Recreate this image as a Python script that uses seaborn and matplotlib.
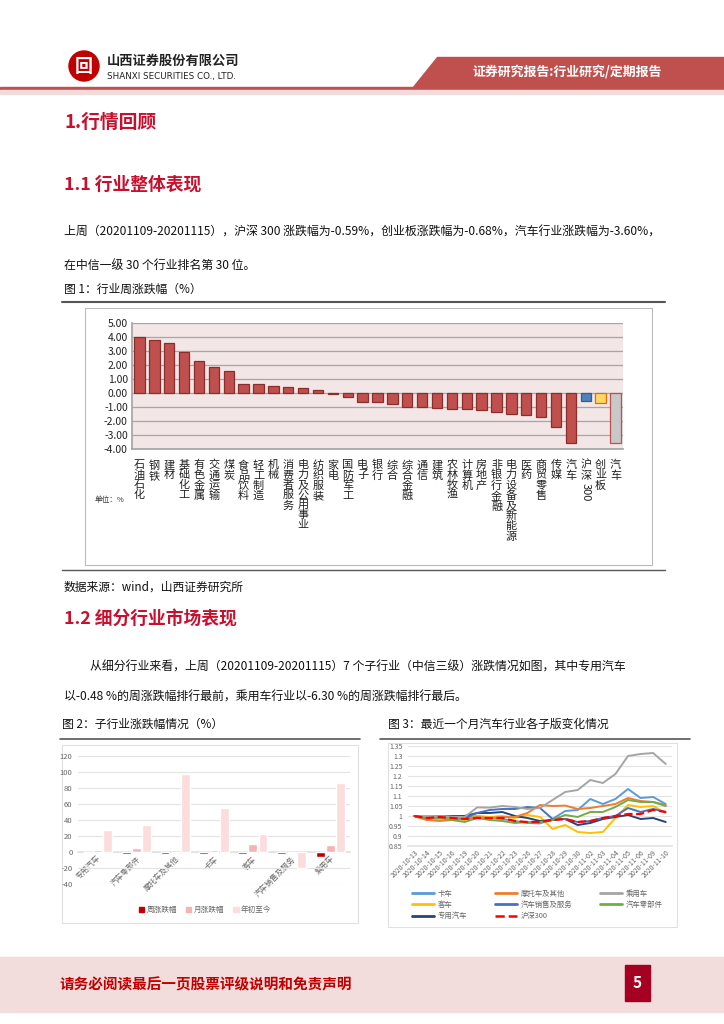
import numpy as np
import pandas as pd
import matplotlib
matplotlib.use("Agg")
import matplotlib.pyplot as plt
import matplotlib.patches as mpatches
import matplotlib.transforms as mtrans
from matplotlib.lines import Line2D
import seaborn as sns

sns.set_theme(style="white")
plt.rcParams['font.family'] = ['Noto Sans CJK SC', 'DejaVu Sans']
plt.rcParams['axes.unicode_minus'] = False

W, H = 724, 1024
RED = "#C8102E"

# ---- 图1 data
industries = ["石油石化", "钢铁", "建材", "基础化工", "有色金属", "交通运输", "煤炭",
              "食品饮料", "轻工制造", "机械", "消费者服务", "电力及公用事业", "纺织服装",
              "家电", "国防军工", "电子", "银行", "综合", "综合金融", "通信", "建筑",
              "农林牧渔", "计算机", "房地产", "非银行金融", "电力设备及新能源", "医药",
              "商贸零售", "传媒", "汽车"]
industry_chg = [4.03, 3.78, 3.60, 2.90, 2.28, 1.87, 1.55, 0.65, 0.62, 0.50, 0.42, 0.35,
                0.20, -0.10, -0.25, -0.62, -0.62, -0.76, -1.00, -1.03, -1.07, -1.14,
                -1.14, -1.22, -1.36, -1.50, -1.56, -1.72, -2.43, -3.60]
index_names = ["沪深300", "创业板", "汽车"]
index_chg = [-0.59, -0.68, -3.60]

# ---- 图2 data
sub_names = ["专用汽车", "汽车零部件", "摩托车及其他", "卡车", "客车", "汽车销售及服务", "乘用车"]
sub_week = [-0.48, -2.0, -2.1, -2.6, -2.7, -3.1, -6.30]
sub_month = [2.5, 5.5, 0.5, 3.0, 9.5, 0.2, 8.5]
sub_ytd = [28, 34, 97.5, 55, 22, -19.5, 86]

# ---- 图3 data
dates = ["2020-10-13", "2020-10-14", "2020-10-15", "2020-10-16", "2020-10-19", "2020-10-20",
         "2020-10-21", "2020-10-22", "2020-10-23", "2020-10-26", "2020-10-27", "2020-10-28",
         "2020-10-29", "2020-10-30", "2020-11-02", "2020-11-03", "2020-11-04", "2020-11-05",
         "2020-11-06", "2020-11-09", "2020-11-10"]
truck = [1.0, 0.998, 1.0, 0.995, 0.99, 1.0, 0.99, 0.985, 0.975, 0.965, 0.963, 0.985, 1.025,
         1.03, 1.085, 1.06, 1.085, 1.135, 1.09, 1.095, 1.06]
moto = [1.0, 0.98, 0.975, 0.98, 0.985, 0.995, 0.99, 0.995, 0.995, 1.015, 1.055, 1.05, 1.052,
        1.035, 1.04, 1.05, 1.06, 1.09, 1.075, 1.07, 1.055]
passenger = [1.0, 0.998, 0.997, 0.996, 0.995, 1.043, 1.042, 1.05, 1.045, 1.035, 1.04, 1.08,
             1.12, 1.13, 1.18, 1.165, 1.21, 1.30, 1.31, 1.315, 1.26]
bus = [1.0, 0.98, 0.985, 0.99, 0.98, 1.0, 0.995, 1.0, 0.99, 1.005, 0.995, 0.935, 0.955, 0.92,
       0.915, 0.92, 0.99, 1.055, 1.045, 1.05, 1.015]
sales = [1.0, 0.99, 0.995, 0.995, 0.99, 1.015, 1.03, 1.035, 1.035, 1.045, 1.04, 0.985, 0.985,
         0.97, 0.975, 0.99, 1.0, 1.04, 1.02, 1.035, 1.02]
parts = [1.0, 0.99, 0.99, 0.98, 0.97, 0.99, 0.98, 0.975, 0.965, 0.97, 0.97, 0.98, 1.005, 0.995,
         1.02, 1.02, 1.045, 1.08, 1.07, 1.07, 1.05]
special = [1.0, 0.985, 0.995, 1.0, 1.0, 1.015, 1.015, 1.02, 1.0, 0.99, 0.975, 0.98, 0.985,
           0.955, 0.965, 0.985, 0.995, 1.005, 0.985, 0.99, 0.97]
hs300 = [1.0, 0.99, 0.995, 0.99, 0.985, 0.99, 0.99, 0.99, 0.975, 0.97, 0.97, 0.98, 0.985,
         0.97, 0.975, 0.99, 1.0, 1.01, 1.01, 1.03, 1.02]


def px(x, y, w, h):
    return [x / W, 1 - (y + h) / H, w / W, h / H]


fig = plt.figure(figsize=(W / 100, H / 100), dpi=100)
fig.patch.set_facecolor("white")

# page layer in pixel coordinates
bg = fig.add_axes([0, 0, 1, 1])
bg.set_xlim(0, W)
bg.set_ylim(H, 0)
bg.axis("off")

# header
bg.add_patch(mpatches.Circle((84, 66), 15, color="#C00000"))
bg.text(84, 66, "回", color="white", fontsize=13, fontweight="bold", ha="center", va="center")
bg.text(107, 61, "山西证券股份有限公司", fontsize=9.5, fontweight="bold", color="#222222", va="center")
bg.text(107, 76, "SHANXI SECURITIES CO., LTD.", fontsize=6.3, color="#222222", va="center",
        family="DejaVu Sans")
bg.add_patch(mpatches.Polygon([(437, 57), (724, 57), (724, 88), (412, 88)], color="#C0504D"))
bg.text(567, 72, "证券研究报告:行业研究/定期报告", color="white", fontsize=9.3, fontweight="bold",
        ha="center", va="center")
bg.add_patch(mpatches.Rectangle((0, 87), W, 2.5, color="#C0504D"))
bg.add_patch(mpatches.Rectangle((0, 89.5), W, 4, color="#F2DCDB"))

# headings and body
bg.text(64, 122, "1.行情回顾", fontsize=13.5, fontweight="bold", color=RED, va="center")
bg.text(64, 185, "1.1 行业整体表现", fontsize=12.8, fontweight="bold", color=RED, va="center")
bg.text(64, 232, "上周（20201109-20201115），沪深 300 涨跌幅为-0.59%，创业板涨跌幅为-0.68%，汽车行业涨跌幅为-3.60%，",
        fontsize=8.6, color="#111111", va="center")
bg.text(64, 265, "在中信一级 30 个行业排名第 30 位。", fontsize=8.6, color="#111111", va="center")
bg.text(64, 289, "图 1：行业周涨跌幅（%）", fontsize=8.5, color="#111111", va="center")
bg.plot([62, 665], [302, 302], color="#555555", lw=1.5)
bg.add_patch(mpatches.Rectangle((85, 308), 567, 257, fill=False, ec="#BBBBBB", lw=0.8))
bg.text(95, 500, "单位：%", fontsize=5.5, color="#333333", va="center")
bg.plot([62, 665], [570, 570], color="#555555", lw=1.0)
bg.text(64, 587, "数据来源：wind，山西证券研究所", fontsize=8.5, color="#111111", va="center")
bg.text(64, 620, "1.2 细分行业市场表现", fontsize=12.8, fontweight="bold", color=RED, va="center")
bg.text(90, 667, "从细分行业来看，上周（20201109-20201115）7 个子行业（中信三级）涨跌情况如图，其中专用汽车",
        fontsize=8.6, color="#111111", va="center")
bg.text(64, 697, "以-0.48 %的周涨跌幅排行最前，乘用车行业以-6.30 %的周涨跌幅排行最后。",
        fontsize=8.6, color="#111111", va="center")
bg.text(62, 724, "图 2：子行业涨跌幅情况（%）", fontsize=8.5, color="#111111", va="center")
bg.text(388, 724, "图 3：最近一个月汽车行业各子版变化情况", fontsize=8.5, color="#111111", va="center")
bg.plot([60, 360], [739, 739], color="#555555", lw=1.2)
bg.plot([380, 690], [739, 739], color="#555555", lw=1.2)
bg.add_patch(mpatches.Rectangle((62, 745), 296, 178, fill=False, ec="#E0E0E0", lw=0.8))
bg.add_patch(mpatches.Rectangle((388, 743), 289, 184, fill=False, ec="#E0E0E0", lw=0.8))

# footer
bg.add_patch(mpatches.Rectangle((0, 957), W, 55, color="#F2DCDC"))
bg.text(60, 984, "请务必阅读最后一页股票评级说明和免责声明", fontsize=10.5, fontweight="bold",
        color="#C00000", va="center")
bg.add_patch(mpatches.Rectangle((625, 965), 25, 36, color="#A50021"))
bg.text(637.5, 983, "5", fontsize=11, fontweight="bold", color="white", ha="center", va="center")

# ---- 图1 chart
ax1 = fig.add_axes(px(132, 323, 491, 126))
names1 = industries + index_names
vals1 = industry_chg + index_chg
fills = ["#C0504D"] * len(industries) + ["#4F81BD", "#FFD966", "#C8C8C8"]
edges = ["#8C2D2B"] * len(industries) + ["#385D8A", "#E26B0A", "#C0504D"]
pos1 = np.arange(len(names1))
sns.barplot(x=pos1, y=vals1, hue=pos1, palette=fills, legend=False, width=0.7,
            saturation=1, ax=ax1, zorder=3)
for p, ec in zip(ax1.patches, edges):
    p.set_edgecolor(ec)
    p.set_linewidth(0.9)
ax1.set_facecolor("#F2E6E6")
ax1.set_ylim(-4, 5)
ax1.set_yticks(np.arange(-4, 5.1, 1))
ax1.set_yticklabels([f"{v:.2f}" for v in np.arange(-4, 5.1, 1)], fontsize=7.5, color="#222222")
ax1.yaxis.grid(True, color="#A6A6A6", lw=0.9)
ax1.set_axisbelow(True)
ax1.set_xticks(pos1)
labels1 = []
for n in names1:
    if n == "沪深300":
        labels1.append("沪\n深")
    else:
        labels1.append("\n".join(n))
ax1.set_xticklabels(labels1, fontsize=8, color="#222222", linespacing=1.0, va="top")
ax1.tick_params(axis="x", length=0, pad=8)
ax1.tick_params(axis="y", length=0, pad=3)
# the "300" of 沪深300 runs sideways under 沪深
hs_i = names1.index("沪深300")
tr = mtrans.blended_transform_factory(ax1.transData, ax1.transAxes)
ax1.text(hs_i, -0.27, "300", rotation=-90, fontsize=8, color="#222222", ha="center", va="top",
         transform=tr)
for s in ["top", "right"]:
    ax1.spines[s].set_visible(False)
ax1.spines["left"].set_color("#A6A6A6")
ax1.spines["bottom"].set_color("#A6A6A6")
ax1.set_xlim(-0.5, len(names1) - 0.5)
ax1.set_xlabel("")

# ---- 图2 chart
ax2 = fig.add_axes(px(78, 756, 272, 128))
df2 = pd.DataFrame({
    "cat": sub_names * 3,
    "metric": ["周涨跌幅"] * 7 + ["月涨跌幅"] * 7 + ["年初至今"] * 7,
    "val": sub_week + sub_month + sub_ytd,
})
pal2 = ["#C00000", "#F6B3B3", "#FCDCDC"]
sns.barplot(data=df2, x="cat", y="val", hue="metric", palette=pal2, width=0.78, gap=0.12,
            saturation=1, legend=False, ax=ax2, zorder=3)
ax2.set_ylim(-40, 120)
ax2.set_yticks(range(-40, 121, 20))
ax2.tick_params(axis="y", labelsize=5.5, labelcolor="#666666", length=0, pad=4)
ax2.yaxis.grid(True, color="#E3E3E3", lw=0.8)
ax2.set_axisbelow(True)
for s in ["top", "right", "left"]:
    ax2.spines[s].set_visible(False)
ax2.spines["bottom"].set_position(("data", 0))
ax2.spines["bottom"].set_color("#E3E3E3")
ax2.set_xticks(range(len(sub_names)))
ax2.set_xticklabels(sub_names, rotation=45, ha="right", rotation_mode="anchor",
                    fontsize=5.5, color="#666666")
ax2.tick_params(axis="x", length=0, pad=2)
ax2.set_xlabel("")
ax2.set_ylabel("")
h2 = [mpatches.Patch(color=c, label=l) for c, l in zip(pal2, ["周涨跌幅", "月涨跌幅", "年初至今"])]
ax2.legend(handles=h2, loc="center", bbox_to_anchor=(205 / W, 1 - 910 / H),
           bbox_transform=fig.transFigure, ncol=3, frameon=False, fontsize=5.5,
           handlelength=0.7, handleheight=0.7, columnspacing=1.2, handletextpad=0.3,
           labelcolor="#666666")

# ---- 图3 chart
ax3 = fig.add_axes(px(408, 746, 264, 100))
xs = np.arange(len(dates))
lines3 = [("卡车", truck, "#5B9BD5", "-"), ("客车", bus, "#FFC000", "-"),
          ("专用汽车", special, "#264478", "-"), ("摩托车及其他", moto, "#ED7D31", "-"),
          ("汽车销售及服务", sales, "#4472C4", "-"), ("沪深300", hs300, "#FF0000", "--"),
          ("乘用车", passenger, "#A5A5A5", "-"), ("汽车零部件", parts, "#70AD47", "-")]
zord = {"沪深300": 5}
for name, vals, col, ls in lines3:
    sns.lineplot(x=xs, y=vals, color=col, lw=1.4 if ls == "-" else 1.6, linestyle=ls,
                 ax=ax3, zorder=zord.get(name, 3))
ax3.set_ylim(0.85, 1.35)
ax3.set_yticks(np.round(np.arange(0.85, 1.351, 0.05), 2))
ax3.set_yticklabels(["0.85", "0.9", "0.95", "1", "1.05", "1.1", "1.15", "1.2", "1.25",
                     "1.3", "1.35"])
ax3.tick_params(axis="y", labelsize=5, labelcolor="#666666", length=0, pad=4)
ax3.yaxis.grid(True, color="#E3E3E3", lw=0.8)
ax3.set_axisbelow(True)
for s in ["top", "right", "left"]:
    ax3.spines[s].set_visible(False)
ax3.spines["bottom"].set_color("#E3E3E3")
ax3.set_xlim(-0.5, len(dates) - 0.5)
ax3.set_xticks(xs)
ax3.set_xticklabels(dates, rotation=45, ha="right", rotation_mode="anchor",
                    fontsize=5, color="#666666")
ax3.tick_params(axis="x", length=0, pad=2)
h3 = [Line2D([], [], color=c, lw=2 if ls == "-" else 1.8, linestyle=ls, label=n)
      for n, v, c, ls in lines3]
ax3.legend(handles=h3, loc="upper left", bbox_to_anchor=(405 / W, 1 - 883 / H),
           bbox_transform=fig.transFigure, ncol=3, frameon=False, fontsize=5.3,
           handlelength=3.0, columnspacing=3.8, handletextpad=0.5, labelspacing=0.45,
           labelcolor="#666666")

fig.savefig("out.png", dpi=100)
